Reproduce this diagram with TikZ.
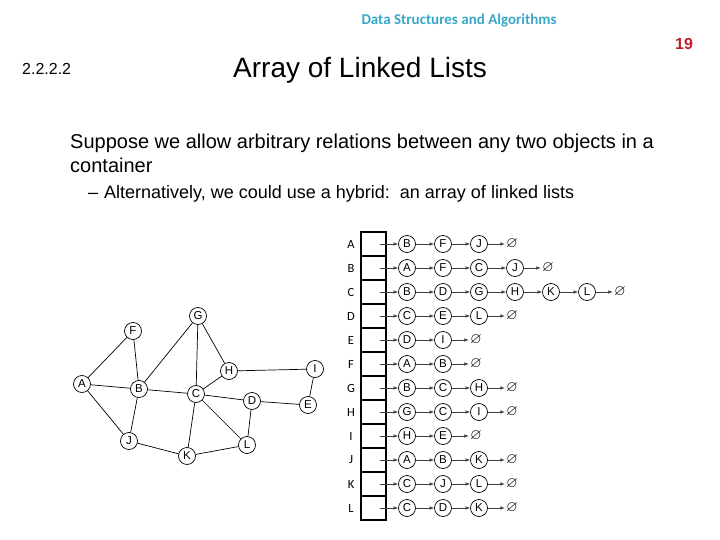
\documentclass[tikz,border=0pt]{standalone}
\usepackage{amssymb}
\usepackage{fontspec}
\setmainfont{Liberation Sans}
\newfontfamily\calibri{Carlito}
\usetikzlibrary{arrows.meta,positioning}
\definecolor{hdrblue}{RGB}{58,166,200}
\definecolor{numred}{RGB}{190,30,45}

\begin{document}
\begin{tikzpicture}[x=1pt,y=-1pt,
    vtx/.style={draw,circle,minimum size=17pt,inner sep=0pt,line width=0.7pt,font=\fontsize{11.5}{11.5}\selectfont},
    edge/.style={line width=0.7pt},
    lnk/.style={-{Latex[length=4.5pt,width=3.5pt]},line width=0.6pt,black!75},
    cellbox/.style={draw,line width=1.4pt,minimum width=25pt,minimum height=24pt,inner sep=0pt},
    lbl/.style={font=\calibri\fontsize{12.5}{12.5}\selectfont}]
    \useasboundingbox (0,0) rectangle (720,540);
    % Slide header and title
    \node[font=\calibri\bfseries\fontsize{15}{15}\selectfont,text=hdrblue] (hdr) at (459,21) {Data Structures and Algorithms};
    \node[font=\bfseries\fontsize{16}{16}\selectfont,text=numred] (pg) at (684,44) {19};
    \node[anchor=base west,inner sep=0pt,font=\fontsize{16}{16}\selectfont] (sec) at (22,75) {2.2.2.2};
    \node[anchor=base west,inner sep=0pt,font=\fontsize{28}{28}\selectfont] (title) at (233,78) {Array of Linked Lists};
    % Bullet text
    \node[anchor=base west,inner sep=0pt,font=\fontsize{20}{24}\selectfont,align=left] (txt) at (70,173) {Suppose we allow arbitrary relations between any two objects in a\\container};
    \node[anchor=base west,inner sep=0pt,font=\fontsize{18}{18}\selectfont] (sub) at (88,199) {--\hspace{6pt}Alternatively, we could use a hybrid:\ \ an array of linked lists};
    % Graph
    \foreach \v/\x/\yy in {A/82/384, F/133/331, G/198/316, B/139/389, H/229/371, I/315/369,
                            C/196/394, D/252/401, E/308/405, J/129/441, K/187/456, L/247/445}{
        \node[vtx] (g\v) at (\x,\yy) {\v};
    }
    \foreach \a/\b in {A/F, A/B, A/J, F/B, B/G, B/C, B/J, G/C, G/H, H/C, H/I,
                       C/D, C/K, C/L, D/E, D/L, E/I, J/K, K/L}{
        \draw[edge] (g\a) -- (g\b);
    }
    % Array of linked lists
    \foreach \r/\n/\lst [count=\i] in {A/3/{B,F,J}, B/4/{A,F,C,J}, C/6/{B,D,G,H,K,L}, D/3/{C,E,L},
                                       E/2/{D,I}, F/2/{A,B}, G/3/{B,C,H}, H/3/{G,C,I}, I/2/{H,E},
                                       J/3/{A,B,K}, K/3/{C,J,L}, L/3/{C,D,K}}{
        \pgfmathsetmacro\y{220+24*\i}
        \node[cellbox] (c\r) at (373.5,\y) {};
        \node[lbl] (l\r) at (351,\y) {\r};
        \coordinate (\r0) at (380,\y);
        \foreach \v [count=\j] in \lst {
            \pgfmathtruncatemacro\p{\j-1}
            \node[vtx] (\r\j) at ({371+36*\j},\y) {\v};
            \draw[lnk] (\r\p) -- (\r\j);
        }
        \node[inner sep=1pt,font=\fontsize{15}{15}\selectfont] (n\r) [right=17pt of \r\n] {$\varnothing$};
        \draw[lnk] (\r\n) -- (n\r);
    }
\end{tikzpicture}
\end{document}
